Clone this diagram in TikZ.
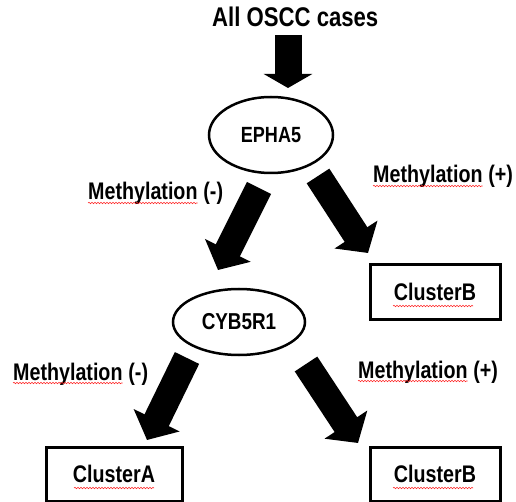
\documentclass[tikz,border=0pt]{standalone}
\usepackage{fontspec}
\setmainfont{Liberation Sans}[FakeStretch=0.82]
\usetikzlibrary{arrows.meta,shapes.geometric,decorations.pathmorphing}

\begin{document}
\begin{tikzpicture}[x=1pt, y=-1pt,
		every node/.style={ text=black, inner sep=0pt, font=\bfseries },
		gene/.style={ ellipse, draw, line width=2.5pt,
				font=\fontsize{22}{26}\selectfont\bfseries },
		cluster/.style={ rectangle, draw, line width=3pt,
				minimum width=130pt, minimum height=54pt,
				font=\fontsize{24}{28}\selectfont\bfseries },
		lbl/.style={ anchor=base west, font=\fontsize{24}{28}\selectfont\bfseries },
		fat/.style={ line width=27pt, -{Triangle[length=22pt,width=50pt]} },
		spell/.style={ red!85, line width=0.6pt, decorate,
				decoration={snake, amplitude=0.7pt, segment length=3pt} } ]

	\useasboundingbox (0,0) rectangle (516,502);

	\node[anchor=base west, font=\fontsize{27}{32}\selectfont\bfseries] (all) at (212,27) {All OSCC cases};

	\node[gene, minimum width=124pt, minimum height=76pt] (epha) at (271,135) {EPHA5};
	\node[gene, minimum width=132pt, minimum height=66pt,
		font=\fontsize{23}{27}\selectfont\bfseries] (cyb) at (239,322) {CYB5R1};

	\node[cluster] (B1) at (435,292) {ClusterB};
	\node[cluster, minimum width=136pt] (A2) at (114,474) {ClusterA};
	\node[cluster] (B2) at (435,474) {ClusterB};

	% methylation labels, word and sign apart
	\node[lbl] (m1) at (88,200) {Methylation};
	\node[lbl] (s1) at (m1.base east) {\ (-)};
	\node[lbl] (m2) at (373,183) {Methylation};
	\node[lbl] (s2) at (m2.base east) {\ (+)};
	\node[lbl] (m3) at (13,380) {Methylation};
	\node[lbl] (s3) at (m3.base east) {\ (-)};
	\node[lbl] (m4) at (358,378) {Methylation};
	\node[lbl] (s4) at (m4.base east) {\ (+)};

	% arrow ends
	\coordinate (t0) at (288,35);
	\coordinate (h0) at (288,88);
	\coordinate (t1) at (259,188);
	\coordinate (h1) at (218,270);
	\coordinate (t2) at (318,176);
	\coordinate (h2) at (368,253);
	\coordinate (t3) at (187,358);
	\coordinate (h3) at (147,440);
	\coordinate (t4) at (306,364);
	\coordinate (h4) at (358,443);

	\draw[fat, -{Triangle[length=14pt,width=48pt]}] (t0) -- (h0);
	\draw[fat] (t1) -- (h1);
	\draw[fat] (t2) -- (h2);
	\draw[fat] (t3) -- (h3);
	\draw[fat] (t4) -- (h4);

	\foreach \m in {m1,m2,m3,m4}
		\draw[spell] ([yshift=-3pt]\m.base west) -- ([yshift=-3pt]\m.base east);
	\draw[spell] ([xshift=-40pt,yshift=-14pt]A2.center) -- ([xshift=40pt,yshift=-14pt]A2.center);
	\draw[spell] ([xshift=-42pt,yshift=-14pt]B1.center) -- ([xshift=38pt,yshift=-14pt]B1.center);
	\draw[spell] ([xshift=-42pt,yshift=-14pt]B2.center) -- ([xshift=38pt,yshift=-14pt]B2.center);
\end{tikzpicture}
\end{document}
